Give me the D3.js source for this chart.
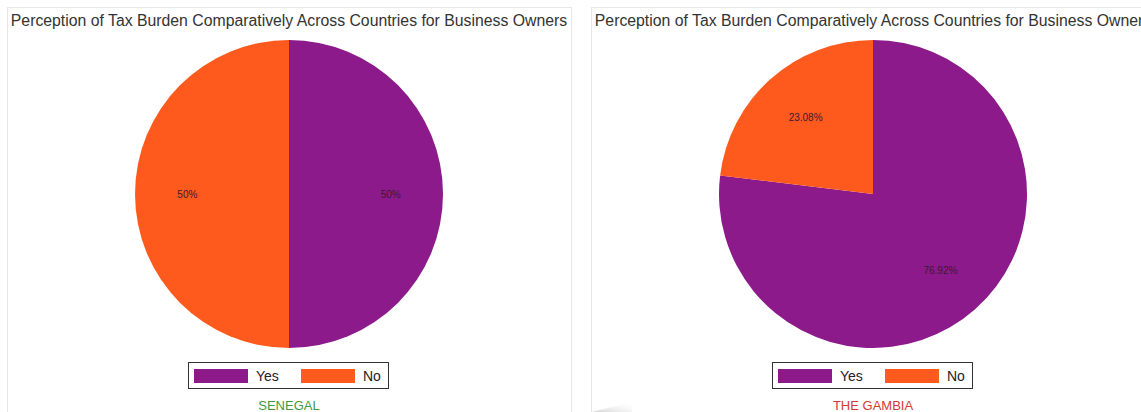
<!DOCTYPE html>
<html>
<head>
<meta charset="utf-8">
<script src="https://cdn.jsdelivr.net/npm/d3@7"></script>
<style>
  html, body { margin: 0; padding: 0; background: #fff; }
  svg { display: block; font-family: "Liberation Sans", Arial, sans-serif; }
</style>
</head>
<body>
<svg id="chart" width="1141" height="412"></svg>
<script>
// Survey answers per country (percent of business owners)
const categories = ["Yes", "No"];
const countries = ["SENEGAL", "THE GAMBIA"];
const senegalValues = [50, 50];
const gambiaValues = [76.92, 23.08];
const valueLabels = [["50%", "50%"], ["76.92%", "23.08%"]];
const titleText = "Perception of Tax Burden Comparatively Across Countries for Business Owners";

const seriesValues = [senegalValues, gambiaValues];
const countryColors = ["#3f9a3f", "#d23a34"];

const svg = d3.select("#chart");
const H = 412;

const color = d3.scaleOrdinal().domain(categories).range(["#8c1a8a", "#ff5a1e"]);

// Panel layout: two 564px panels, 20px apart
const panelW = 564;
const panelX = d3.scaleOrdinal().domain(countries).range([7, 591]);

const pie = d3.pie().sort(null).value(d => d.value).startAngle(0).endAngle(2 * Math.PI);
const radius = 154;
const arc = d3.arc().innerRadius(0).outerRadius(radius);
const labelArc = d3.arc().innerRadius(radius * 0.66).outerRadius(radius * 0.66);

countries.forEach((country, i) => {
  const x0 = panelX(country);
  const cx = x0 + panelW / 2;
  const g = svg.append("g");

  // panel frame
  g.append("rect")
    .attr("x", x0 + 0.5).attr("y", 7.5)
    .attr("width", panelW).attr("height", H + 10)
    .attr("fill", "none").attr("stroke", "#e8e8e8").attr("stroke-width", 1);

  g.append("text")
    .attr("x", cx).attr("y", 26)
    .attr("text-anchor", "middle")
    .attr("font-size", 15.8)
    .attr("fill", "#333")
    .text(titleText);

  const data = categories.map((c, k) => ({ key: c, value: seriesValues[i][k], label: valueLabels[i][k] }));
  const arcs = pie(data);

  const pg = g.append("g").attr("transform", `translate(${cx},194)`);
  pg.selectAll("path").data(arcs).join("path")
    .attr("d", arc)
    .attr("fill", d => color(d.data.key));

  pg.selectAll("text").data(arcs).join("text")
    .attr("transform", d => `translate(${labelArc.centroid(d)})`)
    .attr("text-anchor", "middle")
    .attr("dy", "0.35em")
    .attr("font-size", 10)
    .attr("fill", "#3a1a30")
    .text(d => d.data.label);

  // legend
  const lx = cx - 101, ly = 362;
  const lg = g.append("g").attr("transform", `translate(${lx},${ly})`);
  lg.append("rect").attr("x", 0.5).attr("y", 0.5).attr("width", 200).attr("height", 26)
    .attr("fill", "#fff").attr("stroke", "#333").attr("stroke-width", 1);
  const itemX = d3.scalePoint().domain(categories).range([6, 113]);
  categories.forEach(c => {
    lg.append("rect").attr("x", itemX(c)).attr("y", 7).attr("width", 54).attr("height", 14)
      .attr("fill", color(c));
    lg.append("text").attr("x", itemX(c) + 62).attr("y", 19)
      .attr("font-size", 14).attr("fill", "#222").text(c);
  });

  g.append("text")
    .attr("x", cx).attr("y", 410)
    .attr("text-anchor", "middle")
    .attr("font-size", 13)
    .attr("fill", countryColors[i])
    .text(country);
});

// faint page-fold shadow at the bottom between panels
const defs = svg.append("defs");
const grad = defs.append("linearGradient").attr("id", "fold").attr("x1", 0).attr("y1", 1).attr("x2", 1).attr("y2", 0);
grad.append("stop").attr("offset", 0).attr("stop-color", "#b0b0b0").attr("stop-opacity", 0.6);
grad.append("stop").attr("offset", 1).attr("stop-color", "#ffffff").attr("stop-opacity", 0);
svg.append("path").attr("d", "M592,412 L632,402 L632,412 Z").attr("fill", "url(#fold)");
</script>
</body>
</html>
